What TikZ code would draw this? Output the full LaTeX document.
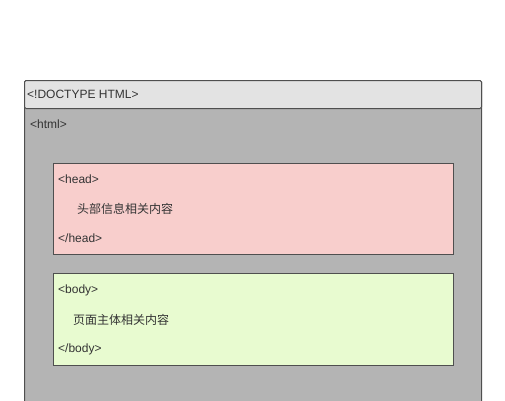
\documentclass[tikz,border=0pt]{standalone}
\usepackage{fontspec}
\setmainfont{Liberation Sans}
\newfontfamily\cjk{Noto Sans CJK SC}
\definecolor{headerGray}{HTML}{E3E3E3}
\definecolor{htmlGray}{HTML}{B4B4B4}
\definecolor{headPink}{HTML}{F8CECC}
\definecolor{bodyGreen}{HTML}{E8FBD0}
\definecolor{lineGray}{HTML}{4F4F4F}
\definecolor{textGray}{HTML}{333333}
\tikzset{
  panel/.style={draw=lineGray, line width=1pt, rectangle, anchor=north west, inner sep=0pt},
  tag/.style={anchor=west, inner sep=0pt, text=textGray, font=\fontsize{12}{14}\selectfont},
  info/.style={anchor=west, inner sep=0pt, text=textGray, font=\cjk\fontsize{12}{14}\selectfont}
}
\begin{document}
\begin{tikzpicture}[x=1pt, y=-1pt]
\useasboundingbox (0,0) rectangle (505,400);

% Outer page
\node[panel, fill=htmlGray, minimum width=457pt, minimum height=340pt, rounded corners=1.5pt] (page) at (24,80) {};
\node[panel, fill=headerGray, minimum width=457pt, minimum height=28pt, rounded corners=1.5pt] (header) at (24,80) {};
\node[tag] (doctype) at (27,94.5) {<!DOCTYPE HTML>};
\node[tag] (html) at (30,124.5) {<html>};

% Head section
\node[panel, fill=headPink, minimum width=400pt, minimum height=91pt] (head) at (53,163) {};
\node[tag] (headOpen) at (58,179.5) {<head>};
\node[info] (headInfo) at (77,208.5) {头部信息相关内容};
\node[tag] (headClose) at (58,238.5) {</head>};

% Body section
\node[panel, fill=bodyGreen, minimum width=400pt, minimum height=92pt] (body) at (53,273) {};
\node[tag] (bodyOpen) at (58,290.5) {<body>};
\node[info] (bodyInfo) at (73,319.5) {页面主体相关内容};
\node[tag] (bodyClose) at (58,349.5) {</body>};
\end{tikzpicture}
\end{document}
